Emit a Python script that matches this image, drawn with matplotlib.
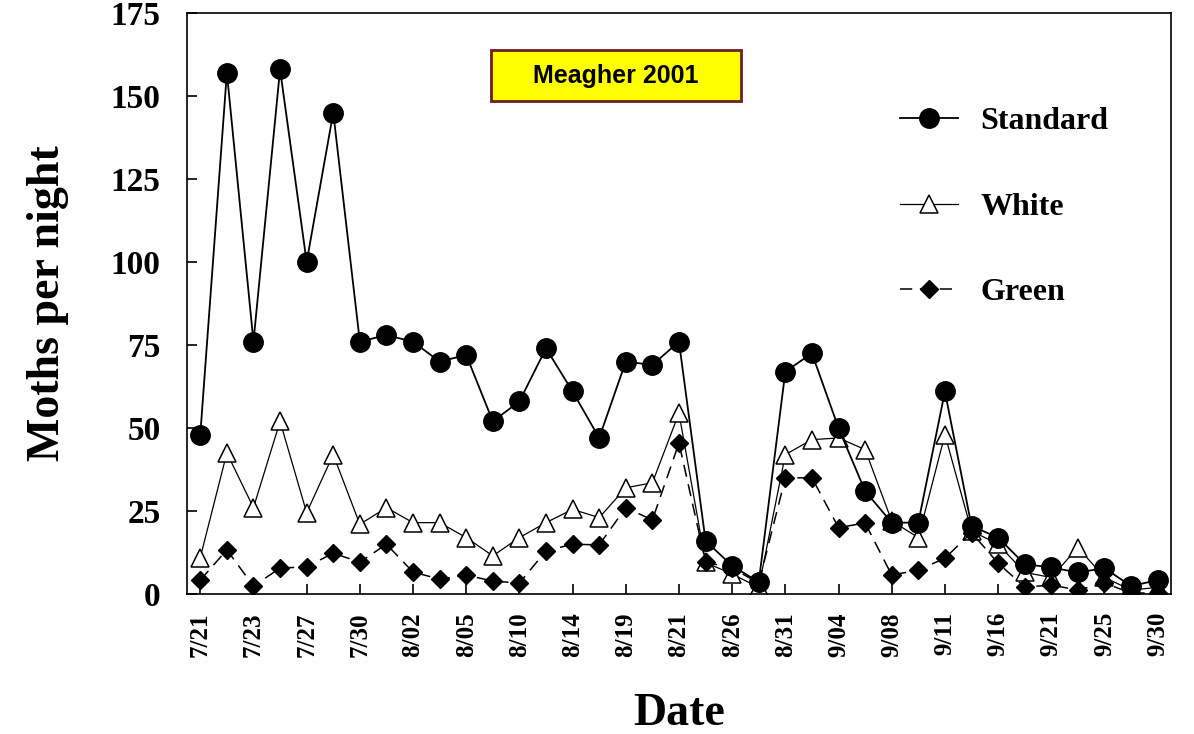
import matplotlib.pyplot as plt
from matplotlib.patches import Rectangle

# 采样日期（每隔一个点标一次日期）
tick_labels = ["7/21", "7/23", "7/27", "7/30", "8/02", "8/05", "8/10", "8/14",
               "8/19", "8/21", "8/26", "8/31", "9/04", "9/08", "9/11", "9/16",
               "9/21", "9/25", "9/30"]

standard = [48, 157, 76, 158, 100, 145, 76, 78, 76, 70, 72, 52, 58, 74, 61, 47,
            70, 69, 76, 16, 8.5, 3.6, 67, 72.5, 50, 31, 21.5, 21.5, 61, 20.5,
            17, 9, 8, 6.5, 7.8, 2.4, 4.2]
white = [11, 42.5, 26, 52, 24.5, 42, 21, 26, 21.5, 21.5, 17, 11.5, 17, 21.5,
         25.5, 23, 32, 33.5, 54.5, 9.5, 6, 2, 42, 46.5, 47, 43.5, 22, 17, 48,
         19, 15, 6.5, 5, 14, 5, 1.2, 2]
green = [4.2, 13.3, 2.4, 7.8, 8.2, 12.3, 9.6, 15, 6.6, 4.5, 5.7, 3.9, 3.3, 13,
         15, 14.8, 26, 22.3, 45.5, 9.6, 7.8, 3.3, 35, 35, 20, 21.4, 5.7, 7.2,
         10.8, 18.5, 9.3, 2.1, 2.7, 1.2, 3.3, 0.3, 0.3]

x = list(range(len(standard)))

serif = ["Liberation Serif", "DejaVu Serif"]

fig = plt.figure(figsize=(11.94, 7.34), dpi=100)
ax = fig.add_axes([0.1566, 0.1907, 0.8241, 0.7916])

ax.plot(x, standard, color="black", lw=1.3, marker="o", ms=14,
        label="Standard", zorder=3)
ax.plot(x, white, color="black", lw=0.9, marker="^", ms=12.5,
        markerfacecolor="white", markeredgewidth=1.1, label="White", zorder=2)
ax.plot(x, green, color="black", lw=1.1, ls=(0, (8, 5)), marker="D", ms=9,
        label="Green", zorder=2)

ax.set_xlim(-0.5, 36.5)
ax.set_ylim(0, 175)
ax.set_yticks(range(0, 176, 25))
ax.set_xticks(x[::2])
ax.set_xticklabels(tick_labels, rotation=90, fontfamily=serif,
                   fontweight="bold", fontsize=18)
for t in ax.get_yticklabels():
    t.set_fontfamily(serif)
    t.set_fontweight("bold")
    t.set_fontsize(24)
ax.tick_params(axis="both", direction="in", length=7, width=1.2)
ax.tick_params(axis="y", pad=19)
ax.tick_params(axis="x", pad=13)
for s in ax.spines.values():
    s.set_linewidth(1.2)

ax.set_xlabel("Date", fontfamily=serif, fontweight="bold", fontsize=33,
              labelpad=26)
ax.set_ylabel("Moths per night", fontfamily=serif, fontweight="bold",
              fontsize=33, labelpad=30)

ax.legend(loc="upper left", bbox_to_anchor=(0.725, 0.838), frameon=False,
          prop={"family": serif, "weight": "bold", "size": 23},
          labelspacing=1.75, handlelength=1.8, handletextpad=0.7,
          borderpad=0, borderaxespad=0)

# 黄色标题框
ax.add_patch(Rectangle((0.309, 0.849), 0.254, 0.087, transform=ax.transAxes,
                       facecolor="yellow", edgecolor="#6b1f1f", lw=2,
                       zorder=4))
ax.text(0.436, 0.892, "Meagher 2001", transform=ax.transAxes, ha="center",
        va="center", fontfamily="Liberation Sans", fontweight="bold",
        fontsize=18, zorder=5)

fig.savefig("out.png", dpi=100)
